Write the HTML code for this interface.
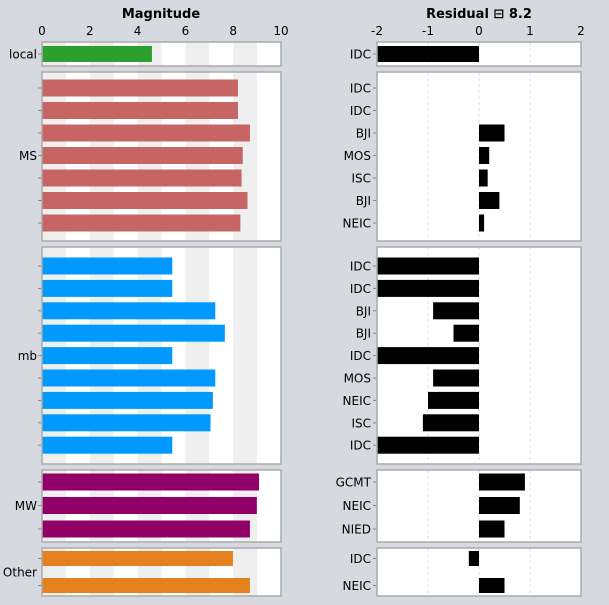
<!DOCTYPE html>
<html><head><meta charset="utf-8"><style>
body{margin:0;background:#d6d9e0;font-family:"DejaVu Sans","Liberation Sans",sans-serif;}
svg{display:block}
text{font-family:"DejaVu Sans","Liberation Sans",sans-serif;fill:#000}
</style></head><body>
<svg id="c" width="609" height="605"></svg>
<script>
const groups=["local","MS","mb","MW","Other"];
const magLocal=[4.6];
const magMS=[8.2,8.2,8.7,8.4,8.35,8.6,8.3];
const magMb=[5.45,5.45,7.25,7.65,5.45,7.25,7.15,7.05,5.45];
const magMW=[9.08,8.99,8.7];
const magOther=[7.99,8.7];
const stLocal=["IDC"];
const stMS=["IDC","IDC","BJI","MOS","ISC","BJI","NEIC"];
const stMb=["IDC","IDC","BJI","BJI","IDC","MOS","NEIC","ISC","IDC"];
const stMW=["GCMT","NEIC","NIED"];
const stOther=["IDC","NEIC"];
const resLocal=[-2];
const resMS=[0,0,0.5,0.2,0.17,0.4,0.1];
const resMb=[-2,-2,-0.9,-0.5,-2,-0.9,-1.0,-1.1,-2];
const resMW=[0.9,0.8,0.5];
const resOther=[-0.2,0.5];
const magTicks=[0,2,4,6,8,10];
const resTicks=[-2,-1,0,1,2];
const residualTitle="Residual ⊟  8.2";

const mags=[magLocal,magMS,magMb,magMW,magOther];
const sts=[stLocal,stMS,stMb,stMW,stOther];
const ress=[resLocal,resMS,resMb,resMW,resOther];
const colors=["#2ca02c","#c76565","#0099ff","#910067","#e5801f"];
const panels=[{t:42,b:66,p:12,s:0,h:16},{t:72,b:241,p:16,s:22.5,h:17},{t:247,b:464,p:19,s:22.4,h:17},{t:470,b:542,p:12,s:23.5,h:17},{t:548,b:596,p:10.5,s:27,h:15}];
const X=v=>42+v*23.9, R=v=>479+v*51;
const svg=document.getElementById('c');const NS="http://www.w3.org/2000/svg";
function el(tag,at,parent){const e=document.createElementNS(NS,tag);for(const k in at)e.setAttribute(k,at[k]);(parent||svg).appendChild(e);return e;}
function txt(s,at){const t=el('text',at);t.textContent=s;return t;}
let t=txt("Magnitude",{x:161,y:18,'text-anchor':'middle','font-size':13,'font-weight':'bold'});


t=txt(residualTitle,{x:479,y:18,'text-anchor':'middle','font-size':13,'font-weight':'bold'});


magTicks.forEach(v=>{const e=txt(String(v),{x:X(v),y:35,'text-anchor':'middle','font-size':12});

});
resTicks.forEach(v=>{const e=txt(String(v),{x:R(v),y:35,'text-anchor':'middle','font-size':12});

});
panels.forEach((P,gi)=>{
  const g=el('g',{});
  
  
  el('rect',{x:42,y:P.t,width:239,height:P.b-P.t,fill:'#fff'},g);
  for(let k=0;k<10;k+=2)el('rect',{x:X(k),y:P.t,width:23.9,height:P.b-P.t,fill:'#efefef'},g);
  el('rect',{x:377,y:P.t,width:204,height:P.b-P.t,fill:'#fff'},g);
  [-1,0,1].forEach(v=>el('line',{x1:R(v),x2:R(v),y1:P.t,y2:P.b,stroke:'#ddd','stroke-dasharray':'3,3'},g));
  const n=mags[gi].length;
  const cy=i=>P.t+P.p+i*P.s;
  mags[gi].forEach((v,i)=>{
    const r=el('rect',{x:42,y:cy(i)-P.h/2,width:X(v)-42,height:P.h,fill:colors[gi]},g);
    
    
    el('line',{x1:38,x2:42,y1:cy(i),y2:cy(i),stroke:'#888'},g);
    el('line',{x1:373,x2:377,y1:cy(i),y2:cy(i),stroke:'#888'},g);
    const l=txt(sts[gi][i],{x:371,y:cy(i)+4.5,'text-anchor':'end','font-size':12});
    
    
    const rv=ress[gi][i];
    if(rv!==0){const b=el('rect',{x:Math.min(R(0),R(rv)),y:cy(i)-P.h/2,width:Math.abs(R(rv)-R(0)),height:P.h,fill:'#000'},g);
    
    }
  });
  const gl=txt(groups[gi],{x:37,y:(cy(0)+cy(n-1))/2+4.5,'text-anchor':'end','font-size':12});
  
  
  el('rect',{x:42,y:P.t,width:239,height:P.b-P.t,fill:'none',stroke:'#aaa','stroke-width':1.5},g);
  el('rect',{x:377,y:P.t,width:204,height:P.b-P.t,fill:'none',stroke:'#aaa','stroke-width':1.5},g);
});
</script>
</body></html>
